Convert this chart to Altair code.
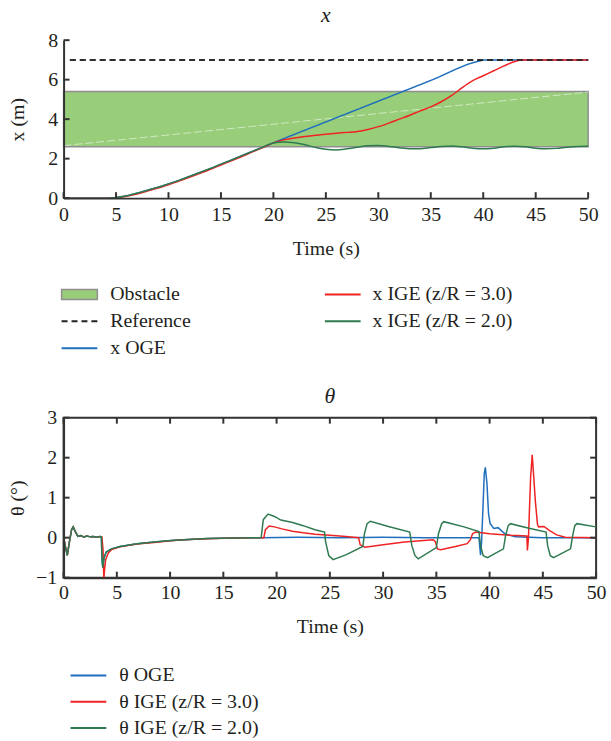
import altair as alt
import pandas as pd

FONT = "Liberation Serif"
TXT = "#231f20"
AXC = "#333333"
FS = 20

# ---------------- top panel (x) ----------------
OBSTACLE_NAME = ["Obstacle"]
OBSTACLE_START = [0]
OBSTACLE_END = [50]
OBSTACLE_LOW = [2.6]
OBSTACLE_HIGH = [5.4]

SEAM_T = [0, 50]
SEAM_X = [2.66, 5.37]

REF_T = [0.6, 50]
REF_X = [7.0, 7.0]

X_OGE_T = [0, 4, 4.5, 5, 6, 7, 8, 9, 10, 11, 12, 13, 14, 15, 16, 17, 18, 19, 20,
           25, 30, 35, 39.6, 40.2, 45, 50]
X_OGE_V = [0, 0, 0.01, 0.03, 0.12, 0.25, 0.4, 0.55, 0.72, 0.9, 1.1, 1.3, 1.5, 1.72,
           1.93, 2.15, 2.37, 2.58, 2.8, 3.86, 4.91, 5.96, 6.94, 7.0, 7.0, 7.0]

X_IGE3_T = [0, 4, 4.5, 5, 6, 7, 8, 9, 10, 11, 12, 13, 14, 15, 16, 17, 18, 19, 19.5,
            20, 21, 22, 23, 24, 25, 26, 27, 28, 29, 30, 31, 32, 33, 34, 35, 36, 37,
            38, 39, 40, 41, 42, 43, 43.7, 45, 50]
X_IGE3_V = [0, 0, 0.0, 0.01, 0.09, 0.21, 0.36, 0.51, 0.68, 0.86, 1.06, 1.26, 1.46,
            1.68, 1.89, 2.11, 2.34, 2.56, 2.68, 2.8, 2.95, 3.05, 3.12, 3.18, 3.24,
            3.29, 3.33, 3.38, 3.48, 3.62, 3.8, 4.0, 4.2, 4.42, 4.62, 4.88, 5.2, 5.6,
            5.95, 6.2, 6.45, 6.7, 6.92, 7.0, 7.0, 7.0]

X_IGE2_T = [0, 4, 4.5, 5, 6, 7, 8, 9, 10, 11, 12, 13, 14, 15, 16, 17, 18, 19, 19.5,
            20, 21, 22, 23, 24, 25, 26, 27, 28, 29, 30, 31, 32, 33, 34, 35, 36, 37,
            38, 39, 40, 41, 42, 43, 44, 45, 46, 47, 48, 49, 50]
X_IGE2_V = [0, 0, 0.01, 0.03, 0.12, 0.25, 0.4, 0.55, 0.72, 0.9, 1.1, 1.3, 1.5, 1.72,
            1.93, 2.15, 2.37, 2.58, 2.7, 2.79, 2.84, 2.8, 2.7, 2.57, 2.47, 2.44, 2.5,
            2.58, 2.65, 2.67, 2.62, 2.55, 2.5, 2.5, 2.56, 2.62, 2.64, 2.6, 2.53, 2.5,
            2.53, 2.6, 2.63, 2.6, 2.53, 2.5, 2.52, 2.58, 2.62, 2.63]

TOP_A = ["Reference", "x OGE"]
TOP_B = ["x IGE (z/R = 3.0)", "x IGE (z/R = 2.0)"]

# ---------------- bottom panel (theta) ----------------
TH_OGE_T = [0, 0.15, 0.35, 0.55, 0.75, 0.9, 1.1, 1.35, 1.6, 1.9, 2.2, 2.5, 2.8, 3.1,
            3.4, 3.55, 3.6, 3.68, 3.8, 4.0, 4.5, 5.3, 6.9, 8.5, 10.1, 11.3, 13.5, 16.0,
            18.5, 22, 26, 30, 34, 37, 39.0, 39.15, 39.25, 39.4, 39.5, 39.6, 39.75,
            39.9, 40.05, 40.4, 40.8, 41.4, 42.4, 45, 50]
TH_OGE_V = [0, -0.2, -0.44, -0.1, 0.2, 0.27, 0.15, 0.03, 0.05, 0.02, 0.04, 0.02, 0.03,
            0.01, 0.03, 0.02, -0.5, -0.75, -0.5, -0.36, -0.28, -0.22, -0.15, -0.11,
            -0.07, -0.05, -0.02, -0.01, 0.0, 0.01, 0.0, 0.01, 0.0, 0.0, 0.0, -0.44,
            -0.1, 0.9, 1.6, 1.76, 1.36, 0.6, 0.35, 0.23, 0.25, 0.1, 0.02, 0.0, 0.0]

TH_IGE3_T = [0, 0.15, 0.35, 0.55, 0.75, 0.9, 1.1, 1.35, 1.6, 1.9, 2.2, 2.5, 2.8, 3.1,
             3.4, 3.6, 3.7, 3.78, 3.85, 3.95, 4.2, 4.5, 5.3, 6.9, 8.5, 10.1, 11.3, 13.5,
             16.0, 18.5, 18.8, 18.95, 19.3, 19.8, 20.5, 21.5, 22.5, 23.6, 25, 26.5,
             27.7, 27.85, 28.3, 30, 32, 34.7, 34.9, 35.1, 35.4, 36.8, 37.9, 38.2, 38.4,
             38.7, 40, 42, 43.5, 43.55, 43.65, 43.85, 44.0, 44.15, 44.3, 44.5, 44.6,
             45.1, 45.6, 46.3, 47.1, 50]
TH_IGE3_V = [0, -0.2, -0.44, -0.1, 0.2, 0.27, 0.15, 0.03, 0.05, 0.02, 0.04, 0.02, 0.03,
             0.01, 0.03, 0.02, -0.3, -1.03, -0.8, -0.55, -0.38, -0.3, -0.23, -0.16,
             -0.12, -0.08, -0.05, -0.03, -0.01, 0.0, 0.0, 0.2, 0.29, 0.27, 0.22, 0.16,
             0.12, 0.085, 0.06, 0.03, 0.0, -0.18, -0.24, -0.18, -0.11, -0.05, -0.1,
             -0.28, -0.3, -0.22, -0.15, -0.05, 0.1, 0.14, 0.1, 0.06, 0.04, -0.32, 0.0,
             1.5, 2.07, 1.5, 0.9, 0.33, 0.27, 0.28, 0.18, 0.07, 0.01, 0.0]

TH_IGE2_T = [0, 0.15, 0.35, 0.55, 0.75, 0.9, 1.1, 1.35, 1.6, 1.9, 2.2, 2.5, 2.8, 3.1,
             3.4, 3.55, 3.6, 3.68, 3.8, 4.0, 4.5, 5.3, 6.9, 8.5, 10.1, 11.3, 13.5, 16.0,
             18.55, 18.75, 19.2, 19.8, 20.4, 21.5, 22.5, 23.6, 24.5, 24.6, 24.9, 25.3,
             26.5, 28.1, 28.25, 28.5, 28.8, 30.5, 32.5, 32.7, 33.0, 33.3, 35.0, 35.2,
             35.5, 35.7, 37.6, 39.0, 39.15, 39.4, 39.8, 41.3, 41.5, 41.75, 41.95, 43.5,
             45.3, 45.45, 45.7, 46.0, 47.6, 47.8, 48.0, 48.2, 50]
TH_IGE2_V = [0, -0.2, -0.44, -0.1, 0.2, 0.27, 0.15, 0.03, 0.05, 0.02, 0.04, 0.02, 0.03,
             0.01, 0.03, 0.02, -0.5, -0.75, -0.5, -0.36, -0.28, -0.22, -0.15, -0.11,
             -0.07, -0.05, -0.02, -0.01, 0.0, 0.45, 0.59, 0.53, 0.44, 0.38, 0.3, 0.2,
             0.14, -0.1, -0.45, -0.55, -0.43, -0.22, 0.1, 0.35, 0.41, 0.28, 0.14, -0.2,
             -0.45, -0.53, -0.25, 0.1, 0.35, 0.4, 0.27, 0.15, -0.2, -0.45, -0.5, -0.28,
             0.05, 0.3, 0.35, 0.25, 0.14, -0.2, -0.45, -0.5, -0.28, 0.05, 0.3, 0.35, 0.27]

TH_NAMES = ["θ OGE", "θ IGE (z/R = 3.0)", "θ IGE (z/R = 2.0)"]

X_TICKS = [0, 5, 10, 15, 20, 25, 30, 35, 40, 45, 50]
Y_TICKS_TOP = [0, 2, 4, 6, 8]
Y_TICKS_BOT = [-1, 0, 1, 2, 3]

C_BLUE = "#1f6fbd"
C_RED = "#ef2323"
C_GREEN = "#2f7a50"
C_REF = "#222222"
C_OBST = "#98cd7a"

TOP_W, TOP_H = 528, 159
BOT_W, BOT_H = 536, 161
TICK = 6


def frame(pairs):
    rows = []
    for name, ts, vs in pairs:
        for i, (t, v) in enumerate(zip(ts, vs)):
            rows.append({"series": name, "t": t, "v": v, "i": i})
    return pd.DataFrame(rows)


AX = dict(labelFont=FONT, labelFontSize=FS, labelColor=TXT, titleFont=FONT,
          titleFontSize=FS, titleColor=TXT, titleFontWeight="normal",
          domainColor=AXC, domainWidth=2, grid=False, zindex=1, labelFlush=False,
          ticks=False, tickSize=0, minExtent=0)


def ax_main(values, title, lp, tp):
    return alt.Axis(values=values, title=title, labelPadding=lp, titlePadding=tp, **AX)


def leg(x, y, offset, rp):
    return alt.Legend(title=None, orient="none", legendX=x, legendY=y,
                      direction="vertical", symbolType="M-2,0H2", symbolSize=324,
                      symbolStrokeWidth=2, labelFont=FONT, labelFontSize=FS,
                      labelColor=TXT, labelOffset=offset, rowPadding=rp, padding=0,
                      labelLimit=400)


def inward_ticks(ys, yticks, w, h, box):
    """Inward-pointing tick marks at the axis tick values (drawn through the scales)."""
    xt = alt.Chart(pd.DataFrame({"t": X_TICKS}))
    yt = alt.Chart(pd.DataFrame({"v": yticks}))
    sty = dict(color=AXC, strokeWidth=2)
    layers = [
        xt.mark_rule(**sty).encode(x=alt.X("t:Q", scale=xs, axis=None),
                                   y=alt.value(h), y2=alt.value(h - TICK)),
        yt.mark_rule(**sty).encode(y=alt.Y("v:Q", scale=ys, axis=None),
                                   x=alt.value(0), x2=alt.value(TICK)),
    ]
    if box:
        layers += [
            xt.mark_rule(**sty).encode(x=alt.X("t:Q", scale=xs, axis=None),
                                       y=alt.value(0), y2=alt.value(TICK)),
            yt.mark_rule(**sty).encode(y=alt.Y("v:Q", scale=ys, axis=None),
                                       x=alt.value(w), x2=alt.value(w - TICK)),
        ]
    return layers


xs = alt.Scale(domain=[0, 50], nice=False, zero=False)
ys_top = alt.Scale(domain=[0, 8], nice=False, zero=False)
ys_bot = alt.Scale(domain=[-1, 3], nice=False, zero=False)

# --- top layers ---
obst_df = pd.DataFrame({"name": OBSTACLE_NAME, "t0": OBSTACLE_START, "t1": OBSTACLE_END,
                        "lo": OBSTACLE_LOW, "hi": OBSTACLE_HIGH})
obst = alt.Chart(obst_df).mark_rect(stroke="#8f8f8f", strokeWidth=1.5).encode(
    x=alt.X("t0:Q", scale=xs, axis=ax_main(X_TICKS, "Time (s)", 6.5, 14)),
    x2="t1:Q",
    y=alt.Y("lo:Q", scale=ys_top, axis=ax_main(Y_TICKS_TOP, "x (m)", 6, 20)),
    y2="hi:Q",
    fill=alt.Fill("name:N", scale=alt.Scale(domain=OBSTACLE_NAME, range=[C_OBST]),
                  legend=alt.Legend(title=None, orient="none", legendX=6, legendY=246,
                                    symbolType="M-2,-0.56H2V0.56H-2Z", symbolSize=324,
                                    symbolStrokeColor="#8f8f8f", symbolStrokeWidth=1.5,
                                    labelFont=FONT, labelFontSize=FS, labelColor=TXT,
                                    labelOffset=21, padding=0, labelLimit=400)),
)

seam_df = pd.DataFrame({"t": SEAM_T, "v": SEAM_X})
seam = alt.Chart(seam_df).mark_line(color="white", opacity=0.55, strokeWidth=1,
                                    strokeDash=[8, 3]).encode(
    x=alt.X("t:Q", scale=xs, axis=None),
    y=alt.Y("v:Q", scale=ys_top, axis=None),
)

a_df = frame([("x OGE", X_OGE_T, X_OGE_V), ("Reference", REF_T, REF_X)])
lines_a = alt.Chart(a_df).mark_line(strokeWidth=1.5, interpolate="monotone").encode(
    x=alt.X("t:Q", scale=xs, axis=None),
    y=alt.Y("v:Q", scale=ys_top, axis=None),
    color=alt.Color("series:N", scale=alt.Scale(domain=TOP_A, range=[C_REF, C_BLUE]),
                    legend=leg(6, 273, 21, 7)),
    strokeDash=alt.StrokeDash("series:N", scale=alt.Scale(domain=TOP_A, range=[[6, 4], [1, 0]]),
                              legend=leg(6, 273, 21, 7)),
    order="i:Q",
)

b_df = frame([("x IGE (z/R = 3.0)", X_IGE3_T, X_IGE3_V),
              ("x IGE (z/R = 2.0)", X_IGE2_T, X_IGE2_V)])
lines_b = alt.Chart(b_df).mark_line(strokeWidth=1.5, interpolate="monotone").encode(
    x=alt.X("t:Q", scale=xs, axis=None),
    y=alt.Y("v:Q", scale=ys_top, axis=None),
    color=alt.Color("series:N", scale=alt.Scale(domain=TOP_B, range=[C_RED, C_GREEN]),
                    legend=leg(271, 246, 20, 7)),
    order="i:Q",
)

ref_df = pd.DataFrame({"t": REF_T, "v": REF_X})
ref_top = alt.Chart(ref_df).mark_line(color=C_REF, strokeWidth=1.5, strokeDash=[6, 4]).encode(
    x=alt.X("t:Q", scale=xs, axis=None),
    y=alt.Y("v:Q", scale=ys_top, axis=None),
)

top = alt.layer(obst, seam, lines_a, lines_b, ref_top,
                *inward_ticks(ys_top, Y_TICKS_TOP, TOP_W, TOP_H, False)).resolve_scale(
    color="independent", strokeDash="independent"
).resolve_axis(x="independent", y="independent").properties(
    width=TOP_W, height=TOP_H,
    title=alt.TitleParams("x", font=FONT, fontSize=22, fontStyle="italic",
                          fontWeight="normal", color=TXT, frame="group",
                          baseline="alphabetic", offset=-14),
)

# --- bottom chart ---
th_df = frame([(TH_NAMES[0], TH_OGE_T, TH_OGE_V), (TH_NAMES[1], TH_IGE3_T, TH_IGE3_V),
               (TH_NAMES[2], TH_IGE2_T, TH_IGE2_V)])

th_lines = alt.Chart(th_df).mark_line(strokeWidth=1.5).encode(
    x=alt.X("t:Q", scale=xs, axis=ax_main(X_TICKS, "Time (s)", 5, 14.7)),
    y=alt.Y("v:Q", scale=ys_bot, axis=ax_main(Y_TICKS_BOT, "θ (°)", 7, 8)),
    color=alt.Color("series:N", scale=alt.Scale(domain=TH_NAMES, range=[C_BLUE, C_RED, C_GREEN]),
                    legend=leg(15, 249.4, 21, 6.5)),
    order="i:Q",
)

bottom = alt.layer(th_lines, *inward_ticks(ys_bot, Y_TICKS_BOT, BOT_W, BOT_H, True)).resolve_axis(
    x="independent", y="independent"
).properties(
    width=BOT_W, height=BOT_H,
    view=alt.ViewBackground(stroke=AXC, strokeWidth=2),
    title=alt.TitleParams("θ", font=FONT, fontSize=22, fontStyle="italic",
                          fontWeight="normal", color=TXT, frame="group",
                          baseline="alphabetic", offset=-17),
)

chart = alt.ConcatChart(concat=[top, bottom], columns=1, spacing=26, align="none").resolve_scale(
    color="independent", fill="independent", strokeDash="independent"
).resolve_legend(
    color="independent", fill="independent", strokeDash="independent"
).properties(
    padding={"left": 6, "top": 2, "right": 4, "bottom": 0}
).configure_view(stroke=None)

chart.save("out.html", embed_options={"renderer": "svg", "actions": False})
